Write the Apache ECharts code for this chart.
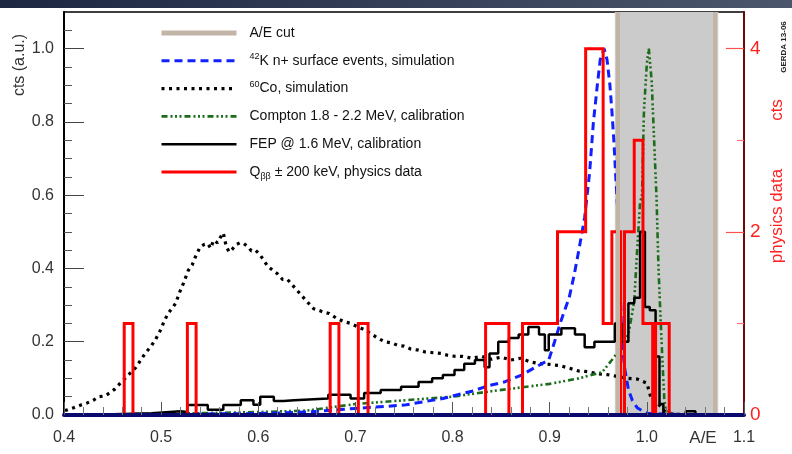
<!DOCTYPE html>
<html><head><meta charset="utf-8">
<script src="https://cdn.jsdelivr.net/npm/echarts@6/dist/echarts.min.js"></script>
<style>html,body{margin:0;padding:0;background:#fff}#c{width:792px;height:454px}</style>
</head><body><div id="c"></div>
<script>
// ---- tick values / labels ----
const xTicks = [0.4, 0.5, 0.6, 0.7, 0.8, 0.9, 1.0, 1.1];
const yTicks = [0, 0.2, 0.4, 0.6, 0.8, 1.0];
const yTickLabels = ['0.0', '0.2', '0.4', '0.6', '0.8', '1.0'];
const yMinorTicks = [0.05, 0.1, 0.15, 0.25, 0.3, 0.35, 0.45, 0.5, 0.55, 0.65, 0.7, 0.75, 0.85, 0.9, 0.95, 1.05];
const rTicks = [0, 2, 4];
const rMinorTicks = [1, 3];
const cutRange = [0.967, 1.0735];

// ---- 42K n+ surface events, simulation ----
const k42X = [0.4, 0.5, 0.6, 0.65, 0.7, 0.75, 0.79, 0.82, 0.837, 0.853, 0.871, 0.885, 0.899, 0.905, 0.912, 0.92, 0.925, 0.93, 0.936, 0.941, 0.945, 0.949, 0.952, 0.956, 0.959, 0.962, 0.964, 0.966, 0.968, 0.97, 0.972, 0.974, 0.977, 0.981, 0.985, 0.99, 0.995, 1.0, 1.02, 1.1];
const k42Y = [0.001, 0.002, 0.004, 0.008, 0.018, 0.027, 0.045, 0.065, 0.08, 0.09, 0.109, 0.13, 0.15, 0.2, 0.26, 0.32, 0.38, 0.45, 0.54, 0.66, 0.8, 0.9, 0.97, 1.0, 0.97, 0.9, 0.83, 0.75, 0.65, 0.56, 0.4, 0.22, 0.13, 0.07, 0.04, 0.02, 0.012, 0.005, 0.002, 0.0];

// ---- 60Co, simulation ----
const coX = [0.401, 0.41, 0.418, 0.424, 0.43, 0.436, 0.442, 0.447, 0.452, 0.458, 0.463, 0.468, 0.474, 0.479, 0.484, 0.489, 0.494, 0.499, 0.503, 0.507, 0.511, 0.515, 0.519, 0.523, 0.528, 0.532, 0.535, 0.54, 0.544, 0.548, 0.551, 0.554, 0.558, 0.561, 0.564, 0.567, 0.57, 0.573, 0.577, 0.581, 0.585, 0.589, 0.593, 0.597, 0.601, 0.605, 0.61, 0.615, 0.62, 0.625, 0.63, 0.635, 0.64, 0.645, 0.65, 0.657, 0.663, 0.668, 0.673, 0.68, 0.688, 0.695, 0.703, 0.71, 0.717, 0.723, 0.73, 0.737, 0.744, 0.75, 0.757, 0.765, 0.772, 0.78, 0.788, 0.795, 0.803, 0.81, 0.82, 0.83, 0.84, 0.85, 0.86, 0.87, 0.88, 0.89, 0.9, 0.91, 0.92, 0.93, 0.94, 0.95, 0.96, 0.97, 0.98, 0.99, 1.0, 1.005, 1.01, 1.015, 1.02, 1.03, 1.05, 1.1];
const coY = [0.012, 0.02, 0.028, 0.033, 0.04, 0.05, 0.052, 0.06, 0.07, 0.087, 0.1, 0.114, 0.13, 0.15, 0.17, 0.185, 0.205, 0.23, 0.255, 0.277, 0.29, 0.305, 0.335, 0.36, 0.395, 0.41, 0.43, 0.458, 0.465, 0.468, 0.455, 0.477, 0.47, 0.485, 0.497, 0.46, 0.445, 0.452, 0.465, 0.47, 0.468, 0.46, 0.448, 0.45, 0.44, 0.425, 0.405, 0.395, 0.385, 0.37, 0.37, 0.355, 0.34, 0.325, 0.31, 0.29, 0.285, 0.28, 0.277, 0.265, 0.255, 0.25, 0.24, 0.232, 0.22, 0.21, 0.2, 0.197, 0.19, 0.188, 0.18, 0.177, 0.172, 0.17, 0.168, 0.163, 0.16, 0.16, 0.155, 0.16, 0.152, 0.158, 0.15, 0.155, 0.145, 0.14, 0.138, 0.135, 0.128, 0.12, 0.118, 0.112, 0.11, 0.105, 0.1, 0.098, 0.087, 0.04, 0.035, 0.02, 0.005, 0.002, 0.001, 0.0];

// ---- Compton 1.8 - 2.2 MeV, calibration ----
const compX = [0.4, 0.5, 0.6, 0.65, 0.7, 0.75, 0.8, 0.84, 0.87, 0.9, 0.93, 0.954, 0.964, 0.975, 0.981, 0.987, 0.99, 0.993, 0.995, 0.997, 1.0, 1.002, 1.005, 1.007, 1.01, 1.012, 1.014, 1.016, 1.018, 1.02, 1.03, 1.1];
const compY = [0.0, 0.003, 0.008, 0.012, 0.03, 0.04, 0.05, 0.065, 0.075, 0.085, 0.1, 0.117, 0.15, 0.19, 0.22, 0.31, 0.45, 0.58, 0.6, 0.83, 0.96, 1.0, 0.91, 0.78, 0.59, 0.4, 0.27, 0.15, 0.04, 0.01, 0.0, 0.0];

// ---- FEP @ 1.6 MeV, calibration (bin left edges / contents) ----
const fepX = [0.4, 0.45, 0.49, 0.52, 0.527, 0.548, 0.564, 0.582, 0.595, 0.602, 0.616, 0.626, 0.637, 0.672, 0.695, 0.709, 0.726, 0.747, 0.765, 0.779, 0.79, 0.802, 0.812, 0.823, 0.833, 0.838, 0.847, 0.858, 0.868, 0.878, 0.889, 0.895, 0.899, 0.912, 0.926, 0.936, 0.946, 0.967, 0.974, 0.981, 0.987, 0.993, 0.998, 1.003, 1.009, 1.013, 1.017, 1.04, 1.05, 1.1];
const fepY = [0.002, 0.005, 0.01, 0.008, 0.027, 0.014, 0.027, 0.04, 0.028, 0.05, 0.038, 0.04, 0.045, 0.055, 0.045, 0.06, 0.068, 0.077, 0.09, 0.1, 0.109, 0.123, 0.14, 0.15, 0.13, 0.168, 0.2, 0.21, 0.22, 0.24, 0.22, 0.177, 0.22, 0.237, 0.22, 0.185, 0.2, 0.25, 0.2, 0.305, 0.32, 0.5, 0.295, 0.286, 0.16, 0.03, 0.0, 0.01, 0.0, 0.0];

// ---- Q_bb +- 200 keV, physics data (bin edges / counts, right axis) ----
const dataEdges = [0.462, 0.471, 0.527, 0.536, 0.674, 0.683, 0.703, 0.713, 0.834, 0.858, 0.872, 0.908, 0.937, 0.955, 0.964, 0.973, 0.977, 0.987, 0.996, 1.006, 1.009, 1.023];
const dataCounts = [1, 0, 1, 0, 1, 0, 1, 0, 1, 0, 1, 2, 4, 1, 2, 0, 2, 3, 1, 0, 1];

const FONT = '"Liberation Sans", Arial, sans-serif';
const zip = (xs, ys) => xs.map((x, i) => [x, ys[i]]);
function histOutline(edges, counts) {
  const pts = [[edges[0], 0]];
  counts.forEach((c, i) => { pts.push([edges[i], c]); pts.push([edges[i + 1], c]); });
  pts.push([edges[edges.length - 1], 0]);
  return pts;
}

const names = ['A/E cut', '42K', '60Co', 'Compton', 'FEP', 'Qbb'];
const legendText = {
  'A/E cut': 'A/E cut',
  '42K': '{sup|42}K n+ surface events, simulation',
  '60Co': '{sup|60}Co, simulation',
  'Compton': 'Compton 1.8 - 2.2 MeV, calibration',
  'FEP': 'FEP @ 1.6 MeV, calibration',
  'Qbb': 'Q{sub|ββ} ± 200 keV, physics data'
};

const chart = echarts.init(document.getElementById('c'), null, {renderer: 'canvas'});
chart.setOption({
  animation: false,
  backgroundColor: '#fff',
  textStyle: {fontFamily: FONT},
  grid: {left: 64, right: 48, top: 12, bottom: 39, show: true, borderColor: '#000', borderWidth: 1.5, backgroundColor: 'transparent'},
  xAxis: {
    type: 'value', min: 0.4, max: 1.1, interval: 0.1, z: 10,
    axisLine: {lineStyle: {color: '#0a0a6e', width: 4}},
    axisTick: {inside: true, length: 13, lineStyle: {color: '#555', width: 1}},
    minorTick: {show: true, splitNumber: 5, length: 8, lineStyle: {color: '#777', width: 1}},
    axisLabel: {fontSize: 16, color: '#333', margin: 15, fontFamily: FONT,
      formatter: v => { const i = xTicks.findIndex(t => Math.abs(t - v) < 1e-6); return i >= 0 ? xTicks[i].toFixed(1) : ''; }},
    splitLine: {show: false}
  },
  yAxis: [
    {type: 'value', min: 0, max: 1.1, position: 'left',
      axisLine: {show: true, lineStyle: {color: '#000', width: 2}},
      axisTick: {inside: true, length: 20, customValues: yTicks, lineStyle: {color: '#444', width: 1}},
      axisLabel: {customValues: yTicks, fontSize: 16, color: '#333', margin: 10, fontFamily: FONT,
        formatter: v => yTickLabels[yTicks.findIndex(t => Math.abs(t - v) < 1e-6)]},
      splitLine: {show: false}},
    {type: 'value', min: 0, max: 4.4, position: 'right',
      axisLine: {show: true, lineStyle: {color: '#6b0a0a', width: 2}},
      axisTick: {inside: true, length: 18, customValues: rTicks, lineStyle: {color: '#ff5050', width: 1.2}},
      axisLabel: {customValues: rTicks, fontSize: 19, color: '#ff2020', margin: 6, fontFamily: FONT},
      splitLine: {show: false}},
    {type: 'value', min: 0, max: 1.1, position: 'left',
      axisLine: {show: false}, axisLabel: {show: false}, splitLine: {show: false},
      axisTick: {inside: true, length: 8, customValues: yMinorTicks, lineStyle: {color: '#555', width: 1}}},
    {type: 'value', min: 0, max: 4.4, position: 'right',
      axisLine: {show: false}, axisLabel: {show: false}, splitLine: {show: false},
      axisTick: {inside: true, length: 7, customValues: rMinorTicks, lineStyle: {color: '#ff7070', width: 1.2}}}
  ],
  legend: {
    orient: 'vertical', left: 159, top: 24, padding: 0, itemWidth: 75, itemHeight: 18, itemGap: 9.8,
    selectedMode: false,
    itemStyle: {opacity: 0, color: 'transparent', borderWidth: 0},
    lineStyle: {width: 'inherit'},
    data: names,
    formatter: n => legendText[n],
    textStyle: {fontFamily: FONT, fontSize: 14, color: '#111', lineHeight: 18, padding: [0, 0, 0, 8],
      rich: {
        sup: {fontFamily: FONT, fontSize: 9, verticalAlign: 'top', lineHeight: 12, color: '#111'},
        sub: {fontFamily: FONT, fontSize: 9, verticalAlign: 'bottom', lineHeight: 12, color: '#111'}
      }}
  },
  series: [
    {name: 'A/E cut', type: 'line', symbol: 'none', z: 1, data: [[0.41, 0]],
      lineStyle: {color: '#c2b5a6', width: 5},
      markArea: {silent: true, itemStyle: {color: '#cbcbcb'}, data: [[{xAxis: cutRange[0]}, {xAxis: cutRange[1]}]]},
      markLine: {silent: true, symbol: 'none', label: {show: false},
        lineStyle: {color: '#c2b5a6', width: 4, type: 'solid'},
        data: [{xAxis: cutRange[0]}, {xAxis: cutRange[1]}]}},
    {name: '60Co', type: 'line', symbol: 'none', z: 2, data: zip(coX, coY),
      lineStyle: {color: '#000', width: 3.2, type: [3, 4.5], cap: 'butt'}},
    {name: 'Compton', type: 'line', symbol: 'none', z: 2, data: zip(compX, compY),
      lineStyle: {color: '#1b6d1b', width: 2.6, type: [6, 3, 2, 2.5, 2, 2.5, 2, 3], cap: 'butt'}},
    {name: '42K', type: 'line', symbol: 'none', z: 2, data: zip(k42X, k42Y),
      lineStyle: {color: '#1020ff', width: 3, type: [8, 5], cap: 'butt'}},
    {name: 'FEP', type: 'line', symbol: 'none', z: 2, step: 'end', data: zip(fepX, fepY),
      lineStyle: {color: '#000', width: 2.5}},
    {name: 'Qbb', type: 'line', symbol: 'none', z: 3, yAxisIndex: 1, data: histOutline(dataEdges, dataCounts),
      lineStyle: {color: '#ff0000', width: 3, join: 'miter'}}
  ],
  graphic: [
    {type: 'rect', left: 0, top: 0, z: 100, shape: {width: 792, height: 8},
      style: {fill: new echarts.graphic.LinearGradient(0, 0, 1, 0, [{offset: 0, color: '#1e2742'}, {offset: 1, color: '#4b556b'}])}},
    {type: 'text', x: 20, y: 65, rotation: Math.PI / 2, z: 100,
      style: {text: 'cts (a.u.)', fontSize: 16, fontFamily: FONT, fill: '#333', align: 'center', verticalAlign: 'middle'}},
    {type: 'text', x: 777, y: 110, rotation: Math.PI / 2, z: 100,
      style: {text: 'cts', fontSize: 17, fontFamily: FONT, fill: '#ff2020', align: 'center', verticalAlign: 'middle'}},
    {type: 'text', x: 777, y: 216, rotation: Math.PI / 2, z: 100,
      style: {text: 'physics data', fontSize: 17, fontFamily: FONT, fill: '#ff2020', align: 'center', verticalAlign: 'middle'}},
    {type: 'text', x: 784, y: 47, rotation: Math.PI / 2, z: 100,
      style: {text: 'GERDA 13-06', fontSize: 8, fontWeight: 'bold', fontFamily: FONT, fill: '#222', align: 'center', verticalAlign: 'middle'}},
    {type: 'text', x: 703, y: 438, z: 100,
      style: {text: 'A/E', fontSize: 17, fontFamily: FONT, fill: '#333', align: 'center', verticalAlign: 'middle'}}
  ]
});
</script></body></html>
